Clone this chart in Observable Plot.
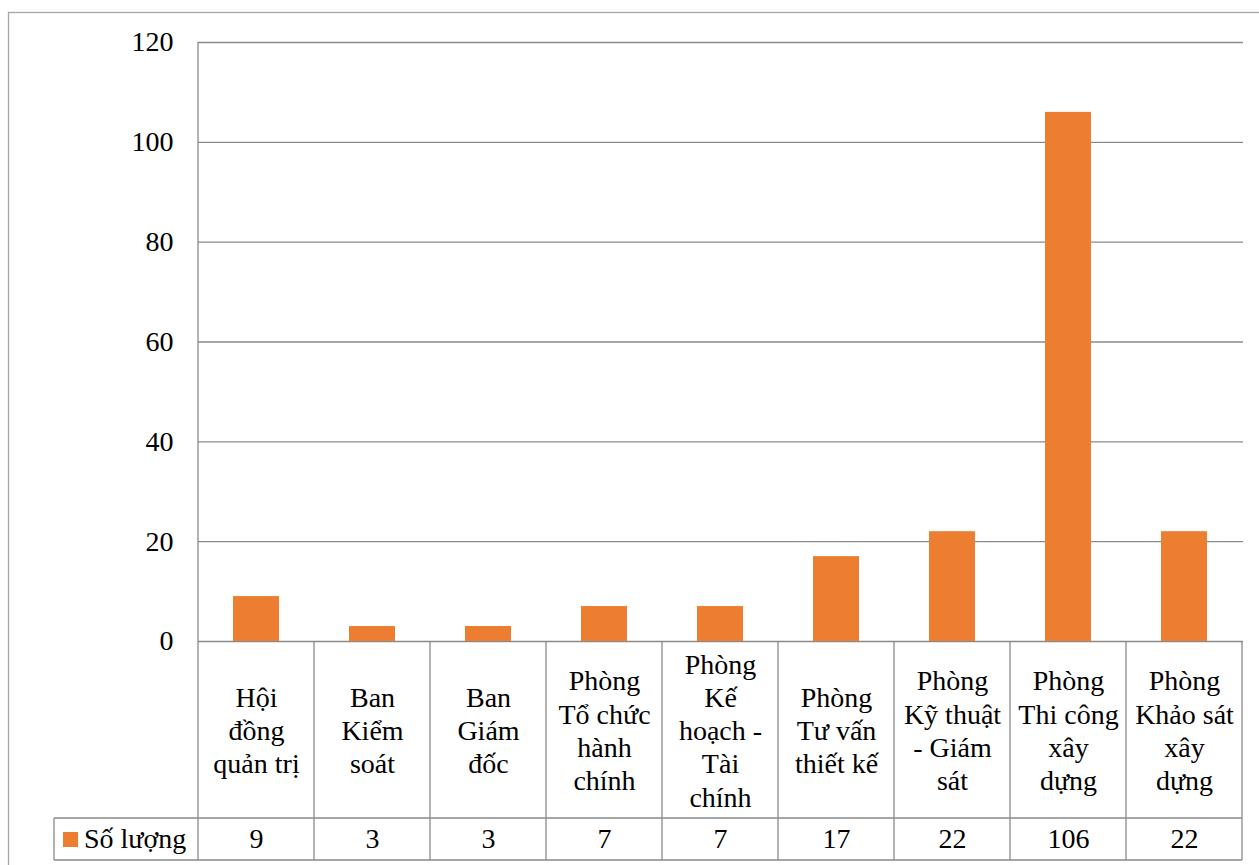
<!DOCTYPE html>
<html>
<head>
<meta charset="utf-8">
<script src="https://cdn.jsdelivr.net/npm/d3@7"></script>
<script src="https://cdn.jsdelivr.net/npm/@observablehq/plot@0.6"></script>
<style>
  html, body { margin: 0; padding: 0; background: #fff; }
  #wrap { position: relative; width: 1259px; height: 865px; }
  #legend { position: absolute; left: 63px; font-family: "Liberation Serif", "Times New Roman", serif; font-size: 28px; line-height: 28px; color: #000; white-space: nowrap; }
  #legend .key { display: inline-block; width: 15px; height: 15px; background: #ED7D31; margin-right: 6px; vertical-align: 1px; }
</style>
</head>
<body>
<div id="wrap"><div id="legend"><span class="key"></span><span id="legendText"></span></div></div>
<script>
const categories = [
  "Hội\nđồng\nquản trị",
  "Ban\nKiểm\nsoát",
  "Ban\nGiám\nđốc",
  "Phòng\nTổ chức\nhành\nchính",
  "Phòng\nKế\nhoạch -\nTài\nchính",
  "Phòng\nTư vấn\nthiết kế",
  "Phòng\nKỹ thuật\n- Giám\nsát",
  "Phòng\nThi công\nxây\ndựng",
  "Phòng\nKhảo sát\nxây\ndựng"
];
const values = [9, 3, 3, 7, 7, 17, 22, 106, 22];
const seriesName = "Số lượng";
const yTicks = [0, 20, 40, 60, 80, 100, 120];

const data = categories.map((c, i) => ({cat: c, val: values[i]}));

const FONT = "'Liberation Serif', 'Times New Roman', serif";
const LINE = "#8a8a8a";
const BAR = "#ED7D31";

document.getElementById("legendText").textContent = seriesName;

const chart = Plot.plot({
  width: 1259,
  height: 865,
  marginLeft: 198,
  marginRight: 16,
  marginTop: 42,
  marginBottom: 224,
  style: "font-family: 'Liberation Serif', 'Times New Roman', serif; font-size: 28px; background: #fff; display: block;",
  x: {domain: categories, paddingInner: 0.6, paddingOuter: 0.3, axis: null},
  y: {domain: [0, 120], axis: null},
  marks: [
    Plot.gridY(yTicks, {stroke: LINE, strokeOpacity: 1, strokeWidth: 1.3}),
    Plot.axisY(yTicks, {label: null, tickSize: 0, tickPadding: 25, fontSize: 28, fontFamily: FONT, fill: "#000"}),
    Plot.barY(data, {x: "cat", y: "val", fill: BAR}),
    Plot.text(data, {x: "cat", y: () => 0, text: "cat", dy: 88, lineAnchor: "middle", lineHeight: 1.19, fontSize: 28, fontFamily: FONT, fill: "#000"}),
    Plot.text(data, {x: "cat", y: () => 0, text: d => String(d.val), dy: 198, fontSize: 28, fontFamily: FONT, fill: "#000"})
  ]
});

document.getElementById("wrap").insertBefore(chart, document.getElementById("legend"));

// Data table lines and outer border, positioned with the plot's own scales
const xs = chart.scale("x");
const ys = chart.scale("y");
const half = (xs.step - xs.bandwidth) / 2;
const edges = categories.map(c => xs.apply(c) - half);
edges.push(edges[edges.length - 1] + xs.step);
const right = edges[edges.length - 1];
const yTop = ys.apply(120);
const y0 = ys.apply(0);
const yRow = y0 + 177;
const yBot = y0 + 219;
const legendLeft = 54;

const svg = d3.select(chart);
const g = svg.append("g").attr("stroke", LINE).attr("stroke-width", 1.3).attr("fill", "none");
g.append("rect").attr("x", 8.5).attr("y", 12.5).attr("width", 1400).attr("height", 1000).attr("stroke", "#a6a6a6");
edges.forEach((x, i) => {
  g.append("line").attr("x1", x).attr("x2", x).attr("y1", i === 0 ? yTop : y0).attr("y2", yBot);
});
g.append("line").attr("x1", legendLeft).attr("x2", right).attr("y1", yRow).attr("y2", yRow);
g.append("line").attr("x1", legendLeft).attr("x2", right).attr("y1", yBot).attr("y2", yBot);
g.append("line").attr("x1", legendLeft).attr("x2", legendLeft).attr("y1", yRow).attr("y2", yBot);

// place the HTML legend in the value row (baseline ≈ row middle + 0.32em)
const baseline = (yRow + yBot) / 2 + 0.32 * 28;
document.getElementById("legend").style.top = (baseline - 23.4) + "px";
</script>
</body>
</html>
